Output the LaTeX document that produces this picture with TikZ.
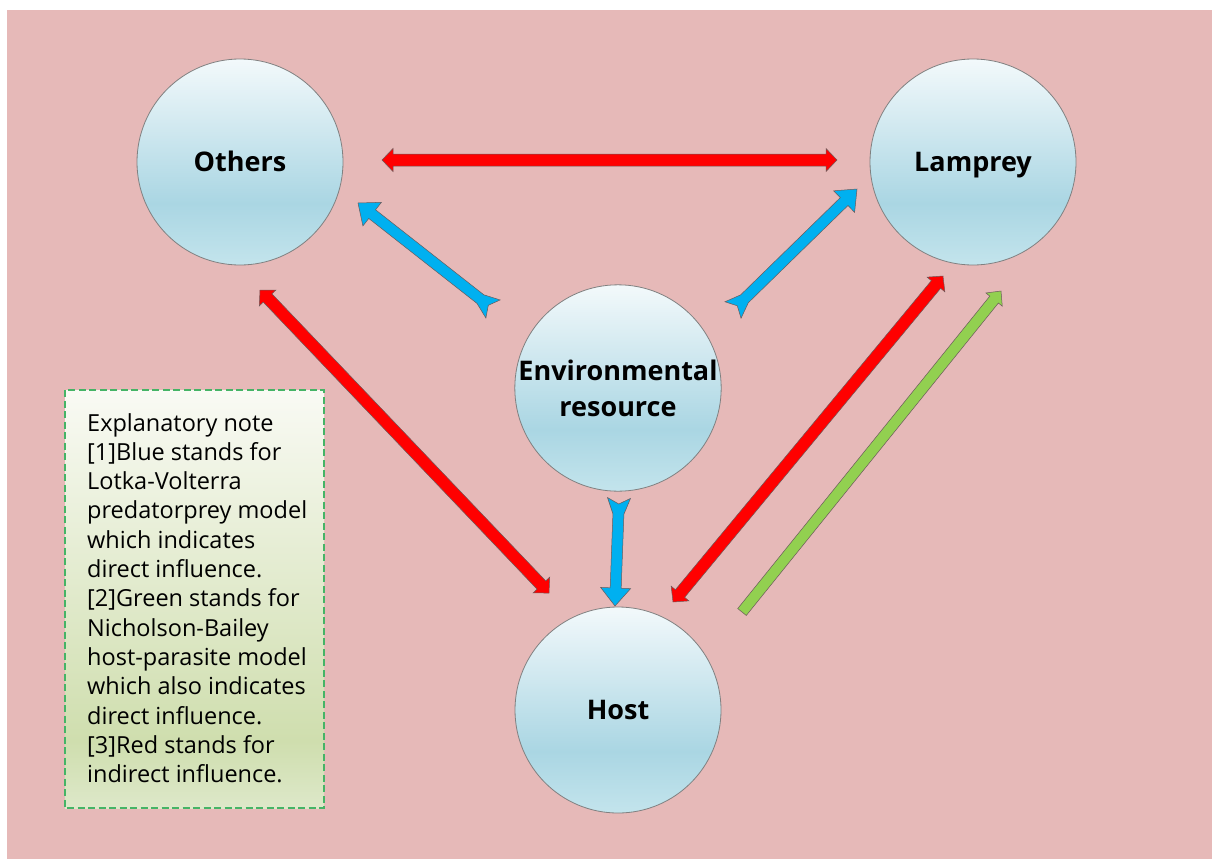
\documentclass[tikz,border=0pt]{standalone}
\usepackage{fontspec}
\setmainfont{Open Sans}
\usetikzlibrary{calc}

\definecolor{bgpink}{HTML}{E6B9B8}
\definecolor{bubbletop}{HTML}{F3F9FB}
\definecolor{bubblemid}{HTML}{AAD6E3}
\definecolor{bubblelow}{HTML}{C3E4EC}
\definecolor{notetop}{HTML}{F9FAF4}
\definecolor{notemid}{HTML}{CFDEAE}
\definecolor{notelow}{HTML}{DDE8C9}
\definecolor{arrowred}{HTML}{FF0000}
\definecolor{arrowblue}{HTML}{00B0F0}
\definecolor{arrowgreen}{HTML}{92D050}
\definecolor{rimgray}{HTML}{6A5A5A}
\definecolor{dashgreen}{HTML}{45B466}

\pgfdeclareverticalshading{bubble}{100bp}{color(0bp)=(bubblelow); color(25bp)=(bubblelow); color(40bp)=(bubblemid); color(75bp)=(bubbletop); color(100bp)=(bubbletop)}
\pgfdeclareverticalshading{notefill}{100bp}{color(0bp)=(notelow); color(25bp)=(notelow); color(33bp)=(notemid); color(75bp)=(notetop); color(100bp)=(notetop)}

\begin{document}
\begin{tikzpicture}[
		x=1pt, y=-1pt,
		species/.style={circle, draw=gray, line width=0.8pt, shade, shading=bubble,
			minimum size=206pt, inner sep=0pt, align=center,
			font=\fontsize{27}{36}\selectfont\bfseries},
		oneline/.style={text height=20pt, text depth=2pt},
		block/.style={draw=rimgray, line width=0.5pt, line join=miter},
		% double headed block arrow
		redblock/.style={block, fill=arrowred, to path={
			($($(\tikztostart)!11pt!(\tikztotarget)$)!6pt!90:(\tikztotarget)$)
			-- ($($(\tikztostart)!11pt!(\tikztotarget)$)!11.5pt!90:(\tikztotarget)$)
			-- (\tikztostart)
			-- ($($(\tikztostart)!11pt!(\tikztotarget)$)!11.5pt!-90:(\tikztotarget)$)
			-- ($($(\tikztostart)!11pt!(\tikztotarget)$)!6pt!-90:(\tikztotarget)$)
			-- ($($(\tikztotarget)!11pt!(\tikztostart)$)!6pt!90:(\tikztostart)$)
			-- ($($(\tikztotarget)!11pt!(\tikztostart)$)!11.5pt!90:(\tikztostart)$)
			-- (\tikztotarget)
			-- ($($(\tikztotarget)!11pt!(\tikztostart)$)!11.5pt!-90:(\tikztostart)$)
			-- ($($(\tikztotarget)!11pt!(\tikztostart)$)!6pt!-90:(\tikztostart)$)
			-- cycle}},
		% block arrow with a notched tail
		blueblock/.style={block, fill=arrowblue, to path={
			($(\tikztostart)!6pt!(\tikztotarget)$)
			-- ($(\tikztostart)!11.5pt!90:(\tikztotarget)$)
			-- ($($(\tikztostart)!16pt!(\tikztotarget)$)!5.5pt!90:(\tikztotarget)$)
			-- ($($(\tikztotarget)!18pt!(\tikztostart)$)!5.5pt!-90:(\tikztostart)$)
			-- ($($(\tikztotarget)!18pt!(\tikztostart)$)!15pt!-90:(\tikztostart)$)
			-- (\tikztotarget)
			-- ($($(\tikztotarget)!18pt!(\tikztostart)$)!15pt!90:(\tikztostart)$)
			-- ($($(\tikztotarget)!18pt!(\tikztostart)$)!5.5pt!90:(\tikztostart)$)
			-- ($($(\tikztostart)!16pt!(\tikztotarget)$)!5.5pt!-90:(\tikztotarget)$)
			-- ($(\tikztostart)!11.5pt!-90:(\tikztotarget)$)
			-- cycle}},
		% block arrow with a flat tail
		greenblock/.style={block, fill=arrowgreen, to path={
			($(\tikztostart)!5.5pt!90:(\tikztotarget)$)
			-- ($($(\tikztotarget)!11pt!(\tikztostart)$)!5.5pt!-90:(\tikztostart)$)
			-- ($($(\tikztotarget)!11pt!(\tikztostart)$)!10.5pt!-90:(\tikztostart)$)
			-- (\tikztotarget)
			-- ($($(\tikztotarget)!11pt!(\tikztostart)$)!10.5pt!90:(\tikztostart)$)
			-- ($($(\tikztotarget)!11pt!(\tikztostart)$)!5.5pt!90:(\tikztostart)$)
			-- ($(\tikztostart)!5.5pt!-90:(\tikztotarget)$)
			-- cycle}},
		notebox/.style={draw=dashgreen, line width=1.4pt, dash pattern=on 7pt off 3.5pt,
			shade, shading=notefill},
		notetext/.style={align=left, inner sep=0pt,
			font=\fontsize{23.5}{29.3}\selectfont}
		]
		\useasboundingbox (0,0) rectangle (1212,859);
		\fill[bgpink] (7,10) rectangle (1212,859);

		% the four circles
		\node[species, oneline] (others) at (240,162) {Others};
		\node[species, oneline] (lamprey) at (973,162) {Lamprey};
		\node[species] (env) at (618,388) {Environmental\\resource};
		\node[species, oneline] (host) at (618,710) {Host};

		% arrow ends
		\coordinate (ol1) at (382,160);
		\coordinate (ol2) at (837,160);
		\coordinate (oh1) at (260,290);
		\coordinate (oh2) at (549,593);
		\coordinate (hl1) at (673,602);
		\coordinate (hl2) at (943,276);
		\coordinate (gh1) at (742,612);
		\coordinate (gh2) at (1001,291);
		\coordinate (eo1) at (493,309);
		\coordinate (eo2) at (358,203);
		\coordinate (el1) at (733,310);
		\coordinate (el2) at (857,189);
		\coordinate (eh1) at (619,498);
		\coordinate (eh2) at (615,606);

		\draw[redblock] (ol1) to (ol2);
		\draw[redblock] (oh1) to (oh2);
		\draw[redblock] (hl1) to (hl2);
		\draw[greenblock] (gh1) to (gh2);
		\draw[blueblock] (eo1) to (eo2);
		\draw[blueblock] (el1) to (el2);
		\draw[blueblock] (eh1) to (eh2);

		% legend
		\path[notebox] (65,390) rectangle (324,808);
		\node[notetext, anchor=north west] (note) at (87,413) {Explanatory note\\
			{[1]}Blue stands for\\
			Lotka-Volterra\\
			predatorprey model\\
			which indicates\\
			direct influence.\\
			{[2]}Green stands for\\
			Nicholson-Bailey\\
			host-parasite model\\
			which also indicates\\
			direct influence.\\
			{[3]}Red stands for\\
			indirect influence.};
	\end{tikzpicture}
\end{document}
